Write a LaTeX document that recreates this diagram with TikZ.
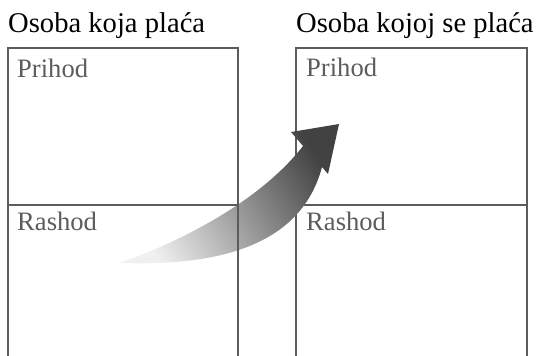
\documentclass[tikz,border=0pt]{standalone}
\usepackage{fontspec}
\setmainfont{Liberation Serif}
\tikzset{
  boxline/.style={line width=2.2pt, draw=black!64, line join=miter},
  heading/.style={anchor=base west, inner sep=0pt, font=\fontsize{28.6}{30}\selectfont},
  part/.style={anchor=base west, inner sep=0pt, text=black!64, font=\fontsize{26.6}{28}\selectfont}
}
\begin{document}
\begin{tikzpicture}[x=1pt,y=-1pt, line join=round]
\useasboundingbox (0,0) rectangle (541,356);
\node[heading] (payer) at (8,32) {Osoba koja plaća};
\node[heading] (payee) at (296,32) {Osoba kojoj se plaća};
% right account
\draw[boxline] (296,356) -- (296,48) -- (527,48) -- (527,356);
\draw[boxline] (296,205) -- (527,205);
\node[part] (inR) at (306,76) {Prihod};
\node[part] (outR) at (306,230) {Rashod};
% payment arrow
\shade[top color=black!74, middle color=black!52, bottom color=black!6, shading angle=-58]
  (120,263) .. controls (195,236) and (265,195) .. (303,146) -- (291,132) -- (339,124)
  -- (328,174) -- (322,167) .. controls (300,250) and (210,266) .. (120,263) -- cycle;
% left account
\draw[boxline] (8,356) -- (8,48) -- (238,48) -- (238,356);
\draw[boxline] (8,205) -- (238,205);
\node[part] (inL) at (17,77) {Prihod};
\node[part] (outL) at (17,230) {Rashod};
\end{tikzpicture}
\end{document}
